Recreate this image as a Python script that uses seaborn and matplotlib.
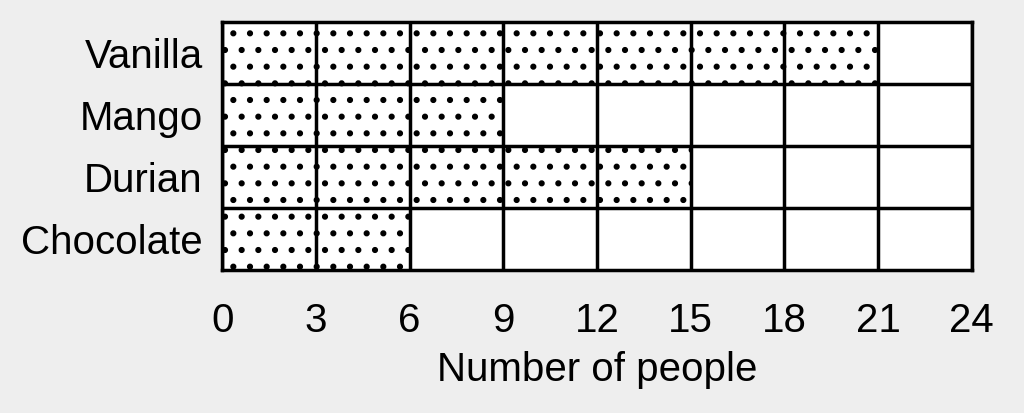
import matplotlib
import matplotlib.pyplot as plt
import pandas as pd
import seaborn as sns

flavours = ["Vanilla", "Mango", "Durian", "Chocolate"]
people = [21, 9, 15, 6]
x_ticks = [0, 3, 6, 9, 12, 15, 18, 21, 24]


def main():
	sns.set_theme(style="white")
	plt.rcParams['font.family'] = ['Liberation Sans', 'DejaVu Sans']
	plt.rcParams['text.color'] = 'black'
	plt.rcParams['xtick.color'] = 'black'
	plt.rcParams['ytick.color'] = 'black'
	plt.rcParams['axes.labelcolor'] = 'black'
	plt.rcParams['hatch.linewidth'] = 2.0

	df = pd.DataFrame({"Flavour": flavours, "Number of people": people})

	fig = plt.figure(figsize=(10.24, 4.13), dpi=100, facecolor="#eeeeee")
	ax = fig.add_axes([0.217, 0.346, 0.732, 0.6])
	ax.set_facecolor("white")

	sns.barplot(data=df, y="Flavour", x="Number of people", orient="h",
				width=1.0, color="white", edgecolor="black", linewidth=0,
				ax=ax)
	for bar in ax.patches:
		bar.set_hatch(".")

	ax.set_xlim(0, 24)
	ax.set_ylim(3.5, -0.5)
	ax.set_xticks(x_ticks)
	ax.set_xticklabels([str(t) for t in x_ticks], fontsize=29)
	ax.set_yticks(range(len(flavours)))
	ax.set_yticklabels(flavours, fontsize=29, va="center_baseline")
	ax.set_yticks([0.5, 1.5, 2.5], minor=True)

	# grid on top of the bars
	ax.set_axisbelow(False)
	ax.grid(axis="x", which="major", color="black", linewidth=2.5)
	ax.grid(axis="y", which="minor", color="black", linewidth=2.5)
	ax.grid(axis="y", which="major", visible=False)
	ax.tick_params(axis="both", which="both", length=0)
	ax.tick_params(axis="x", pad=23)
	ax.tick_params(axis="y", pad=14)

	for side in ax.spines.values():
		side.set_visible(True)
		side.set_color("black")
		side.set_linewidth(2.5)

	ax.set_ylabel("")
	ax.set_xlabel("Number of people", fontsize=29, labelpad=8)

	fig.savefig("out.png", dpi=100, facecolor=fig.get_facecolor())


if __name__ == "__main__":
	main()
